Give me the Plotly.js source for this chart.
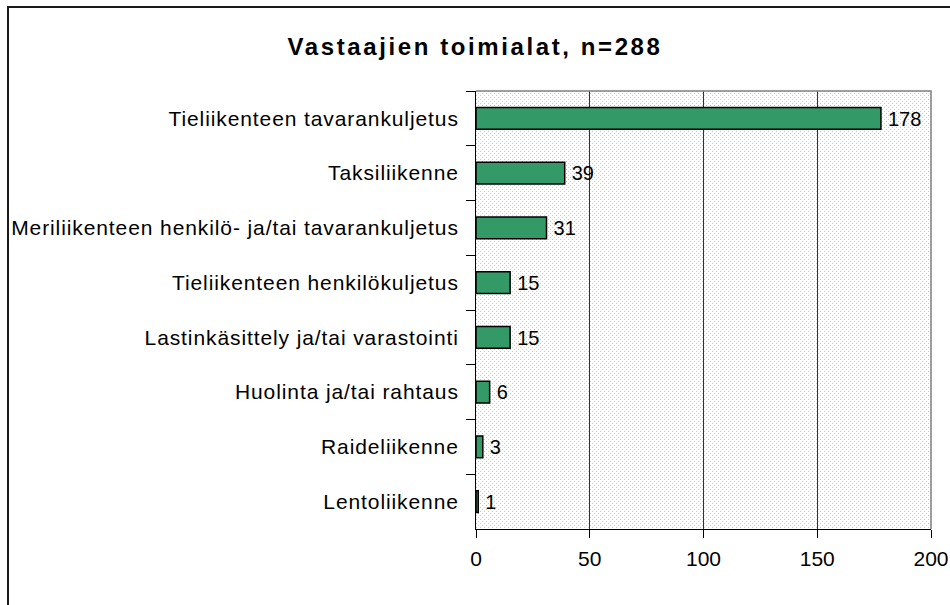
<!DOCTYPE html>
<html>
<head>
<meta charset="utf-8">
<script src="https://cdn.plot.ly/plotly-3.0.1.min.js"></script>
<style>
html,body{margin:0;padding:0;background:#fff;}
#chart .ytick text{letter-spacing:0.9px;}
#chart .gtitle{letter-spacing:2.6px;}
</style>
</head>
<body>
<div id="chart" style="width:950px;height:605px;"></div>
<script>
const categories = [
  "Tieliikenteen tavarankuljetus",
  "Taksiliikenne",
  "Meriliikenteen henkilö- ja/tai tavarankuljetus",
  "Tieliikenteen henkilökuljetus",
  "Lastinkäsittely ja/tai varastointi",
  "Huolinta ja/tai rahtaus",
  "Raideliikenne",
  "Lentoliikenne"
];
const values = [178, 39, 31, 15, 15, 6, 3, 1];
const xTicks = [0, 50, 100, 150, 200];
const chartTitle = "Vastaajien toimialat, n=288";

const FONT = "Liberation Sans, Arial, sans-serif";

const svgPattern = '<svg xmlns="http://www.w3.org/2000/svg" width="455" height="438">' +
  '<defs><pattern id="p" width="4" height="4" patternUnits="userSpaceOnUse">' +
  '<rect width="4" height="4" fill="#ffffff"/>' +
  '<rect x="0" y="0" width="1" height="1" fill="#c8c8c8"/>' +
  '<rect x="2" y="2" width="1" height="1" fill="#c8c8c8"/>' +
  '</pattern></defs><rect width="455" height="438" fill="url(#p)"/></svg>';

const trace = {
  type: "bar",
  orientation: "h",
  y: categories,
  x: values,
  width: 0.4,
  marker: {color: "#339966", line: {color: "#000000", width: 1.5}},
  text: values.map(v => "\u2009" + v),
  textposition: "outside",
  cliponaxis: false,
  textfont: {family: FONT, size: 21, color: "#000"},
  hoverinfo: "x+y"
};

const layout = {
  width: 950, height: 605,
  margin: {l: 476, r: 19, t: 91, b: 76, pad: 0},
  paper_bgcolor: "#ffffff",
  plot_bgcolor: "#ffffff",
  showlegend: false,
  font: {family: FONT, size: 21, color: "#000"},
  title: {
    text: "<b>" + chartTitle + "</b>",
    font: {family: FONT, size: 24, color: "#000"},
    xref: "container", x: 0.5, xanchor: "center",
    yref: "container", y: 1 - 47/605, yanchor: "middle"
  },
  xaxis: {
    range: [0, 200],
    tickvals: xTicks,
    ticktext: xTicks.map(String),
    showgrid: true, gridcolor: "#333333", gridwidth: 1,
    showline: true, linecolor: "#000", linewidth: 1,
    ticks: "outside", ticklen: 8, tickcolor: "#000",
    ticklabelstandoff: 3,
    zeroline: false,
    tickfont: {family: FONT, size: 21, color: "#000"},
    fixedrange: true
  },
  yaxis: {
    type: "category",
    autorange: "reversed",
    showgrid: false,
    showline: true, linecolor: "#000", linewidth: 1,
    ticks: "outside", ticklen: 9, tickcolor: "#000",
    tickson: "boundaries",
    ticklabelstandoff: 12,
    tickfont: {family: FONT, size: 21, color: "#000"},
    fixedrange: true
  },
  images: [{
    source: "data:image/svg+xml;charset=utf-8," + encodeURIComponent(svgPattern),
    xref: "paper", yref: "paper", x: 0, y: 1, sizex: 1, sizey: 1,
    xanchor: "left", yanchor: "top", sizing: "stretch", layer: "below"
  }],
  shapes: [
    {type: "path", xref: "paper", yref: "paper", path: "M0,1 L1,1 L1,0",
     line: {color: "#808080", width: 1.5}, layer: "above"},
    {type: "rect", xref: "paper", yref: "paper",
     x0: (8 - 476) / 455, x1: (960 - 476) / 455,
     y0: (529 - 620) / 438, y1: (529 - 7) / 438,
     line: {color: "#1a1a1a", width: 2}, fillcolor: "rgba(0,0,0,0)", layer: "above"}
  ]
};

Plotly.newPlot("chart", [trace], layout, {displayModeBar: false, staticPlot: true});
</script>
</body>
</html>
